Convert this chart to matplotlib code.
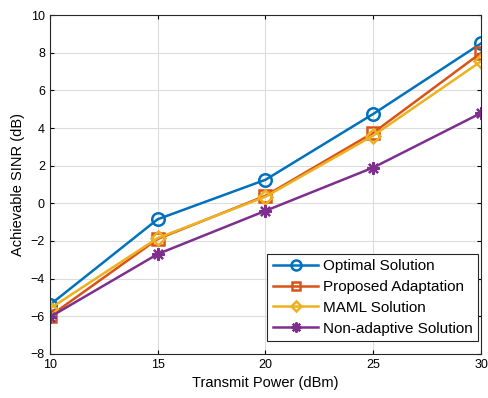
import numpy as np
import matplotlib
matplotlib.use("Agg")
import matplotlib.pyplot as plt

plt.rcParams['font.family'] = ['Liberation Sans', 'DejaVu Sans']

power = [10, 15, 20, 25, 30]
optimal = [-5.4, -0.85, 1.25, 4.75, 8.5]
proposed = [-6.0, -1.9, 0.4, 3.75, 8.0]
maml = [-5.6, -1.85, 0.35, 3.6, 7.55]
nonadaptive = [-6.05, -2.7, -0.4, 1.9, 4.8]

fig = plt.figure(figsize=(4.88, 3.98), dpi=100)
ax = fig.add_axes([0.102, 0.111, 0.884, 0.851])

ax.plot(power, optimal, '-o', color='#0072BD', lw=1.8, ms=9, mfc='none', mew=1.8, label='Optimal Solution')
ax.plot(power, proposed, '-s', color='#D95319', lw=1.8, ms=8, mfc='none', mew=1.8, label='Proposed Adaptation')
ax.plot(power, maml, '-D', color='#EDB120', lw=1.8, ms=7, mfc='none', mew=1.8, label='MAML Solution')
ax.plot(power, nonadaptive, '-', marker=(8, 2, 0), color='#7E2F8E', lw=1.8, ms=9, mew=1.6, label='Non-adaptive Solution')

ax.set_xlim(10, 30)
ax.set_ylim(-8, 10)
ax.set_xticks(power)
ax.set_yticks(np.arange(-8, 11, 2))
ax.grid(True, color='#dcdcdc', lw=0.8)
ax.tick_params(direction='in', labelsize=9, top=True, right=True, length=3)
for s in ax.spines.values():
    s.set_linewidth(0.8)
    s.set_color('#262626')
ax.set_xlabel('Transmit Power (dBm)', fontsize=10.5)
ax.set_ylabel('Achievable SINR (dB)', fontsize=10.5)

leg = ax.legend(loc='lower right', fontsize=11, fancybox=False, framealpha=1,
                edgecolor='#262626', handlelength=3.0, borderpad=0.35,
                labelspacing=0.45, handletextpad=0.3, borderaxespad=0,
                markerscale=0.8, bbox_to_anchor=(0.993, 0.038))
leg.get_frame().set_linewidth(0.8)

fig.savefig('out.png', dpi=100)
